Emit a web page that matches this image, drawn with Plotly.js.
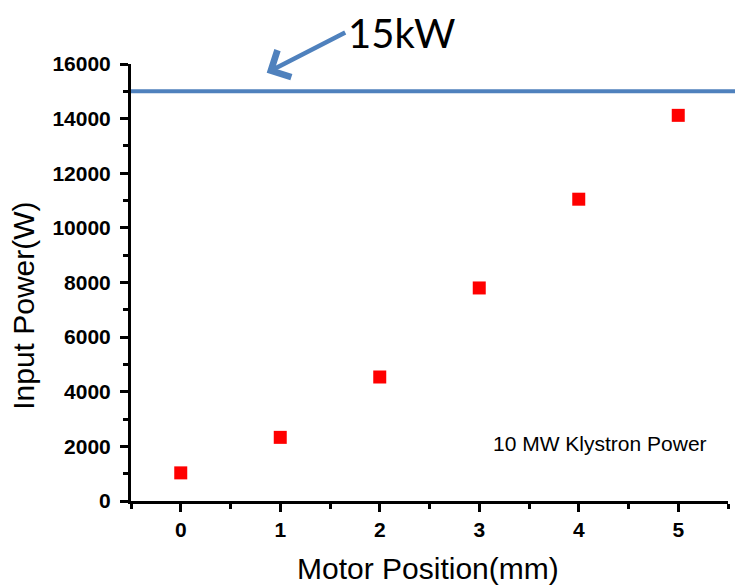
<!DOCTYPE html>
<html>
<head>
<meta charset="utf-8">
<script src="https://cdn.plot.ly/plotly-3.0.1.min.js"></script>
<style>
  html, body { margin: 0; padding: 0; background: #fff; }
  #chart { width: 735px; height: 586px; }
</style>
</head>
<body>
<div id="chart"></div>
<script>
// Motor position (mm) vs. input power (W)
const motorPosition = [0, 1, 2, 3, 4, 5];
const inputPower = [1030, 2330, 4540, 7800, 11050, 14120];
const powerLimit = 15000;           // 15 kW reference level
const xTicks = [0, 1, 2, 3, 4, 5];
const yTicks = [0, 2000, 4000, 6000, 8000, 10000, 12000, 14000, 16000];

const axisFont = { family: 'Liberation Sans, Arial, sans-serif', size: 21, color: '#000', weight: 'bold' };
const titleFont = { family: 'Liberation Sans, Arial, sans-serif', size: 30, color: '#000' };

const trace = {
  x: motorPosition,
  y: inputPower,
  type: 'scatter',
  mode: 'markers',
  marker: { symbol: 'square', size: 13, color: '#ff0000' },
  showlegend: false,
  cliponaxis: false
};

const layout = {
  width: 735,
  height: 586,
  margin: { l: 131, r: 7, t: 64, b: 85 },
  paper_bgcolor: '#fff',
  plot_bgcolor: '#fff',
  showlegend: false,
  xaxis: {
    range: [-0.5, 5.5],
    tickvals: xTicks,
    ticktext: xTicks.map(String),
    showgrid: false,
    zeroline: false,
    showline: true,
    linecolor: '#000',
    linewidth: 3,
    ticks: 'outside',
    ticklen: 8,
    tickwidth: 3,
    tickcolor: '#000',
    ticklabelstandoff: 0,
    minor: { dtick: 0.5, ticks: 'outside', ticklen: 5, tickwidth: 3, tickcolor: '#000', showgrid: false },
    tickfont: axisFont,
    fixedrange: true
  },
  yaxis: {
    range: [0, 16000],
    tickvals: yTicks,
    ticktext: yTicks.map(String),
    showgrid: false,
    zeroline: false,
    showline: true,
    linecolor: '#000',
    linewidth: 3,
    ticks: 'outside',
    ticklen: 8,
    tickwidth: 3,
    tickcolor: '#000',
    ticklabelstandoff: 5,
    minor: { dtick: 1000, ticks: 'outside', ticklen: 5, tickwidth: 3, tickcolor: '#000', showgrid: false },
    tickfont: axisFont,
    fixedrange: true
  },
  shapes: [
    {
      type: 'line',
      xref: 'paper', yref: 'y',
      x0: 0, x1: 1.02,
      y0: powerLimit, y1: powerLimit,
      line: { color: '#4f81bd', width: 4 }
    }
  ],
  annotations: [
    // axis titles
    {
      xref: 'paper', yref: 'paper',
      x: 0.498, y: -0.155,
      xanchor: 'center', yanchor: 'middle',
      text: 'Motor Position(mm)',
      showarrow: false,
      font: titleFont
    },
    {
      xref: 'paper', yref: 'paper',
      x: -0.179, y: 0.447,
      xanchor: 'center', yanchor: 'middle',
      textangle: -90,
      text: 'Input Power(W)',
      showarrow: false,
      font: titleFont
    },
    // arrow pointing at the 15 kW line
    {
      xref: 'x', yref: 'y',
      x: 0.864, y: 15680,
      ax: 80, ay: -41,
      text: '',
      showarrow: true,
      arrowhead: 4,
      arrowsize: 1.3,
      arrowwidth: 4.5,
      arrowcolor: '#4f81bd',
      standoff: 0,
      startstandoff: 0
    },
    {
      xref: 'paper', yref: 'paper',
      x: (346 - 131) / 597, y: (501.5 - 33) / 437.5,
      xanchor: 'left', yanchor: 'middle',
      text: '15kW',
      showarrow: false,
      font: { family: 'Lato, Carlito, sans-serif', size: 40, color: '#000' }
    },
    {
      xref: 'x', yref: 'y',
      x: 3.12, y: 2090,
      xanchor: 'left', yanchor: 'middle',
      text: '10 MW Klystron Power',
      showarrow: false,
      font: { family: 'Liberation Sans, Arial, sans-serif', size: 21, color: '#000' }
    }
  ]
};

Plotly.newPlot('chart', [trace], layout, { staticPlot: true, displayModeBar: false });
</script>
</body>
</html>
